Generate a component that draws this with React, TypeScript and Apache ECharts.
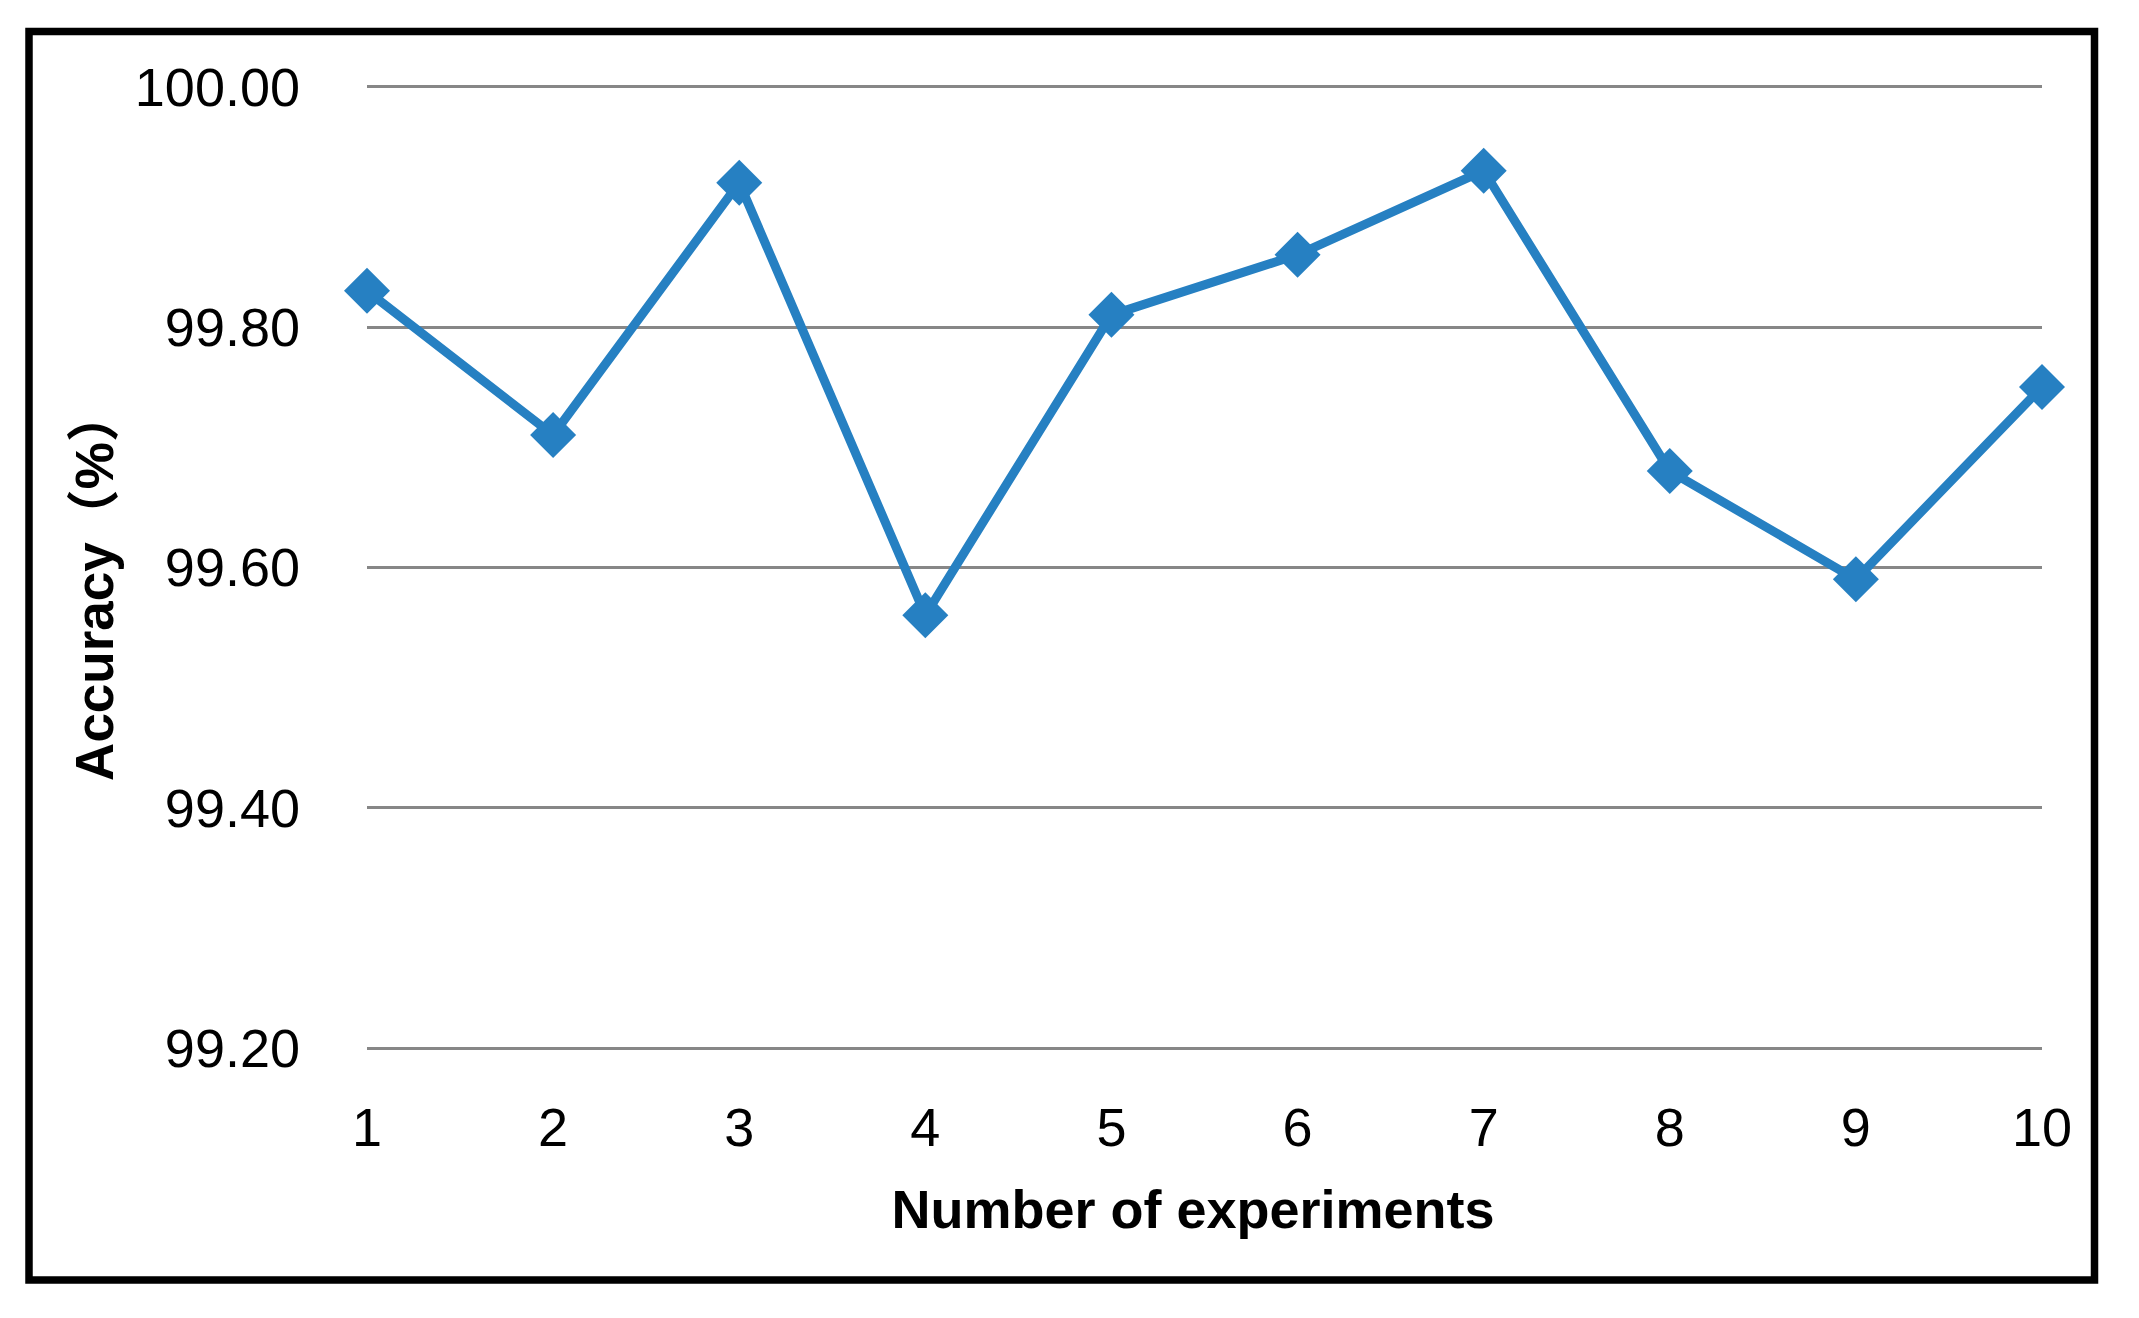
import React, { useEffect, useRef } from "react";
import * as echarts from "echarts";

const categories = ["1", "2", "3", "4", "5", "6", "7", "8", "9", "10"];
const accuracy = [99.83, 99.71, 99.92, 99.56, 99.81, 99.86, 99.93, 99.68, 99.59, 99.75];
const yMin = 99.2;
const yMax = 100.0;
const yInterval = 0.2;
const xTitle = "Number of experiments";
const yTitle = "Accuracy（%）";

const FONT = '"Liberation Sans", Arial, "Noto Sans CJK SC", sans-serif';

export default function App() {
  const ref = useRef<HTMLDivElement>(null);
  useEffect(() => {
    if (!ref.current) return;
    const chart = echarts.init(ref.current, undefined, { renderer: "svg" });
    chart.setOption({
      animation: false,
      backgroundColor: "#ffffff",
      grid: { left: 367, right: 97, top: 86.5, bottom: 270 },
      xAxis: {
        type: "category",
        data: categories,
        boundaryGap: false,
        axisLine: { show: false },
        axisTick: { show: false },
        splitLine: { show: false },
        axisLabel: {
          color: "#000",
          fontSize: 54,
          fontFamily: FONT,
          margin: 52,
          interval: 0,
        },
      },
      yAxis: {
        type: "value",
        min: yMin,
        max: yMax,
        interval: yInterval,
        axisLine: { show: false },
        axisTick: { show: false },
        axisLabel: {
          color: "#000",
          fontSize: 54,
          fontFamily: FONT,
          margin: 67,
          formatter: (v: number) => v.toFixed(2),
        },
        splitLine: { show: true, lineStyle: { color: "#878787", width: 3 } },
      },
      series: [
        {
          type: "line",
          data: accuracy,
          symbol: "diamond",
          symbolSize: 46,
          lineStyle: { color: "#2680c2", width: 9 },
          itemStyle: { color: "#2680c2" },
          clip: false,
        },
      ],
      graphic: [
        {
          type: "rect",
          shape: { x: 29, y: 31.5, width: 2065.5, height: 1248.5 },
          style: { fill: "none", stroke: "#000", lineWidth: 7.5 },
          silent: true,
        },
        {
          type: "text",
          x: 1193,
          y: 1209,
          style: {
            text: xTitle,
            fontSize: 54,
            fontWeight: "bold",
            fontFamily: FONT,
            fill: "#000",
            align: "center",
            verticalAlign: "middle",
          },
        },
        {
          type: "text",
          x: 94,
          y: 585,
          rotation: Math.PI / 2,
          style: {
            text: yTitle,
            fontSize: 53,
            fontWeight: "bold",
            fontFamily: FONT,
            fill: "#000",
            align: "center",
            verticalAlign: "middle",
          },
        },
      ],
    });
    return () => chart.dispose();
  }, []);
  return (
    <div
      ref={ref}
      style={{ position: "absolute", left: 0, top: 0, width: 2139, height: 1318 }}
    />
  );
}
